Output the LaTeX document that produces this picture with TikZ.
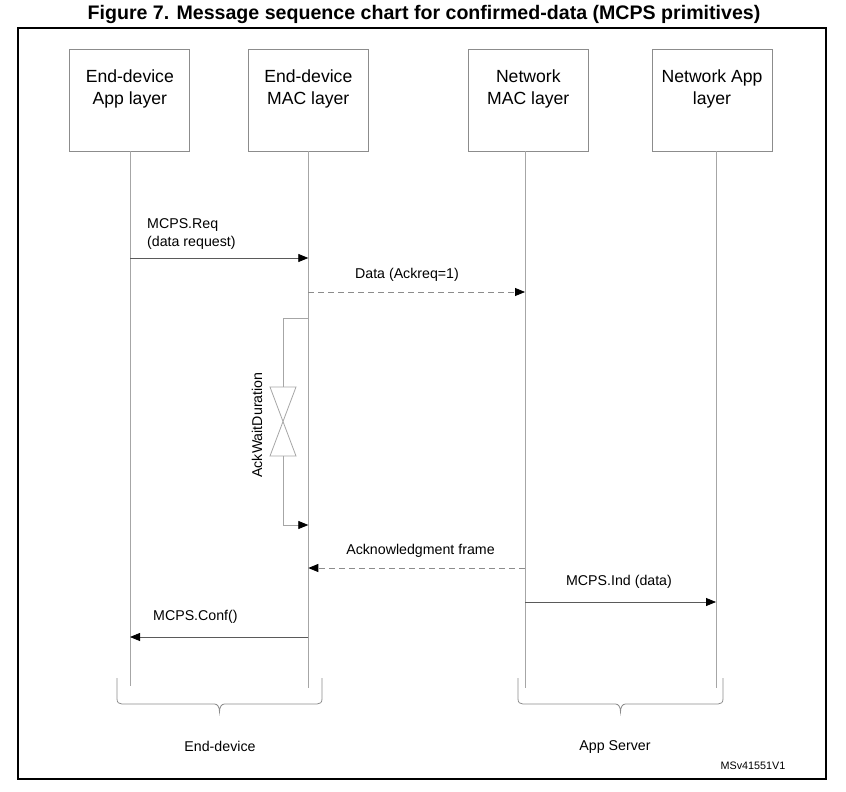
\documentclass[tikz,border=0pt]{standalone}
\usepackage{fontspec}
\setmainfont{Liberation Sans}
\usetikzlibrary{arrows.meta}
\definecolor{boxgray}{HTML}{8C8C8C}
\definecolor{lifegray}{HTML}{A6A6A6}
\definecolor{msggray}{HTML}{5A5A5A}
\tikzset{
  box/.style={draw=boxgray, line width=0.8pt, minimum width=120pt, minimum height=101.5pt, inner sep=0pt},
  boxtext/.style={font=\fontsize{17.6}{22}\selectfont, align=center, inner sep=0pt},
  life/.style={draw=lifegray, line width=1pt},
  msg/.style={draw=msggray, line width=0.8pt, -{Triangle[length=10pt,width=8pt,black]}},
  dmsg/.style={msg, draw=boxgray, dash pattern=on 6pt off 4pt},
  lbl/.style={font=\fontsize{14.2}{18}\selectfont, inner sep=0pt},
  waitline/.style={draw=lifegray, line width=0.8pt},
  bracestyle/.style={draw=boxgray, line width=0.8pt},
}
\begin{document}
\begin{tikzpicture}[x=1pt,y=-1pt]
\useasboundingbox (0,0) rectangle (846,792);
% title
\node[font=\fontsize{19.6}{22}\bfseries\selectfont, inner sep=0pt] (title) at (424,14) {Figure 7. Message sequence chart for confirmed-data (MCPS primitives)};
% frame
\node[draw=black, line width=1.3pt, minimum width=808pt, minimum height=751pt, inner sep=0pt] (frame) at (422,403.5) {};
% boxes
\node[box] (b1) at (129.8,100.2) {};
\node[box] (b2) at (308.3,100.2) {};
\node[box] (b3) at (528.3,100.2) {};
\node[box] (b4) at (712.5,100.2) {};
\node[boxtext] (t1) at (129.8,89) {End-device\\App layer};
\node[boxtext] (t2) at (308.3,89) {End-device\\MAC layer};
\node[boxtext] (t3) at (528.3,89) {Network\\MAC layer};
\node[boxtext] (t4) at (712,89) {Network App\\layer};
% lifeline ends
\coordinate (e1) at (130,686);
\coordinate (e2) at (308.3,688);
\coordinate (e3) at (525,688);
\coordinate (e4) at (716,688);
\draw[life] (b1.south -| e1) -- (e1);
\draw[life] (b2.south -| e2) -- (e2);
\draw[life] (b3.south -| e3) -- (e3);
\draw[life] (b4.south -| e4) -- (e4);
% message points
\coordinate (reqA) at (130,258);   \coordinate (reqB) at (308.3,258);
\coordinate (datA) at (308.3,292); \coordinate (datB) at (525,292);
\coordinate (ackA) at (525,568);   \coordinate (ackB) at (308.3,568);
\coordinate (indA) at (525,602);   \coordinate (indB) at (716,602);
\coordinate (cnfA) at (308.3,637); \coordinate (cnfB) at (130,637);
\draw[msg] (reqA) -- (reqB);
\draw[dmsg] (datA) -- (datB);
\draw[dmsg] (ackA) -- (ackB);
\draw[msg] (indA) -- (indB);
\draw[msg] (cnfA) -- (cnfB);
% labels
\node[lbl, anchor=west, align=left] (lreq) at (147,234) {MCPS.Req\\(data request)};
\node[lbl] (ldat) at (407,275) {Data (Ackreq=1)};
\node[lbl] (lack) at (420.5,551) {Acknowledgment frame};
\node[lbl] (lind) at (619,582) {MCPS.Ind (data)};
\node[lbl, anchor=west] (lcnf) at (153,617) {MCPS.Conf()};
% ack wait duration
\coordinate (wS) at (308.3,318);
\coordinate (wE) at (308.3,525);
\coordinate (hgT) at (283,387);
\coordinate (hgB) at (283,456);
\draw[waitline] (wS) -- (wS -| hgT) -- (hgT);
\draw[waitline] (270,387) -- (296,387) -- (270,456) -- (296,456) -- cycle;
\draw[waitline, -{Triangle[length=10pt,width=8pt,black]}] (hgB) -- (hgB |- wE) -- (wE);
\node[lbl, rotate=90] (lwait) at (257,425) {AckWaitDuration};
% braces
\coordinate (br1) at (219.5,712);
\coordinate (br2) at (620.5,712);
\draw[bracestyle] (117,678) -- (117,699) .. controls (117,702.5) and (119,704) .. (122,704)
  -- (214.5,704) .. controls (217.5,704) and (219.5,707) .. (br1)
  .. controls (219.5,707) and (221.5,704) .. (224.5,704)
  -- (317,704) .. controls (320,704) and (322,702.5) .. (322,699) -- (322,678);
\draw[bracestyle] (518,678) -- (518,699) .. controls (518,702.5) and (520,704) .. (523,704)
  -- (615.5,704) .. controls (618.5,704) and (620.5,707) .. (br2)
  .. controls (620.5,707) and (622.5,704) .. (625.5,704)
  -- (718,704) .. controls (721,704) and (723,702.5) .. (723,699) -- (723,678);
\node[lbl] (gED) at (220,746) {End-device};
\node[lbl] (gAS) at (615,747) {App Server};
\node[font=\fontsize{10.8}{12}\selectfont, inner sep=0pt] (ref) at (753,766) {MSv41551V1};
\end{tikzpicture}
\end{document}
